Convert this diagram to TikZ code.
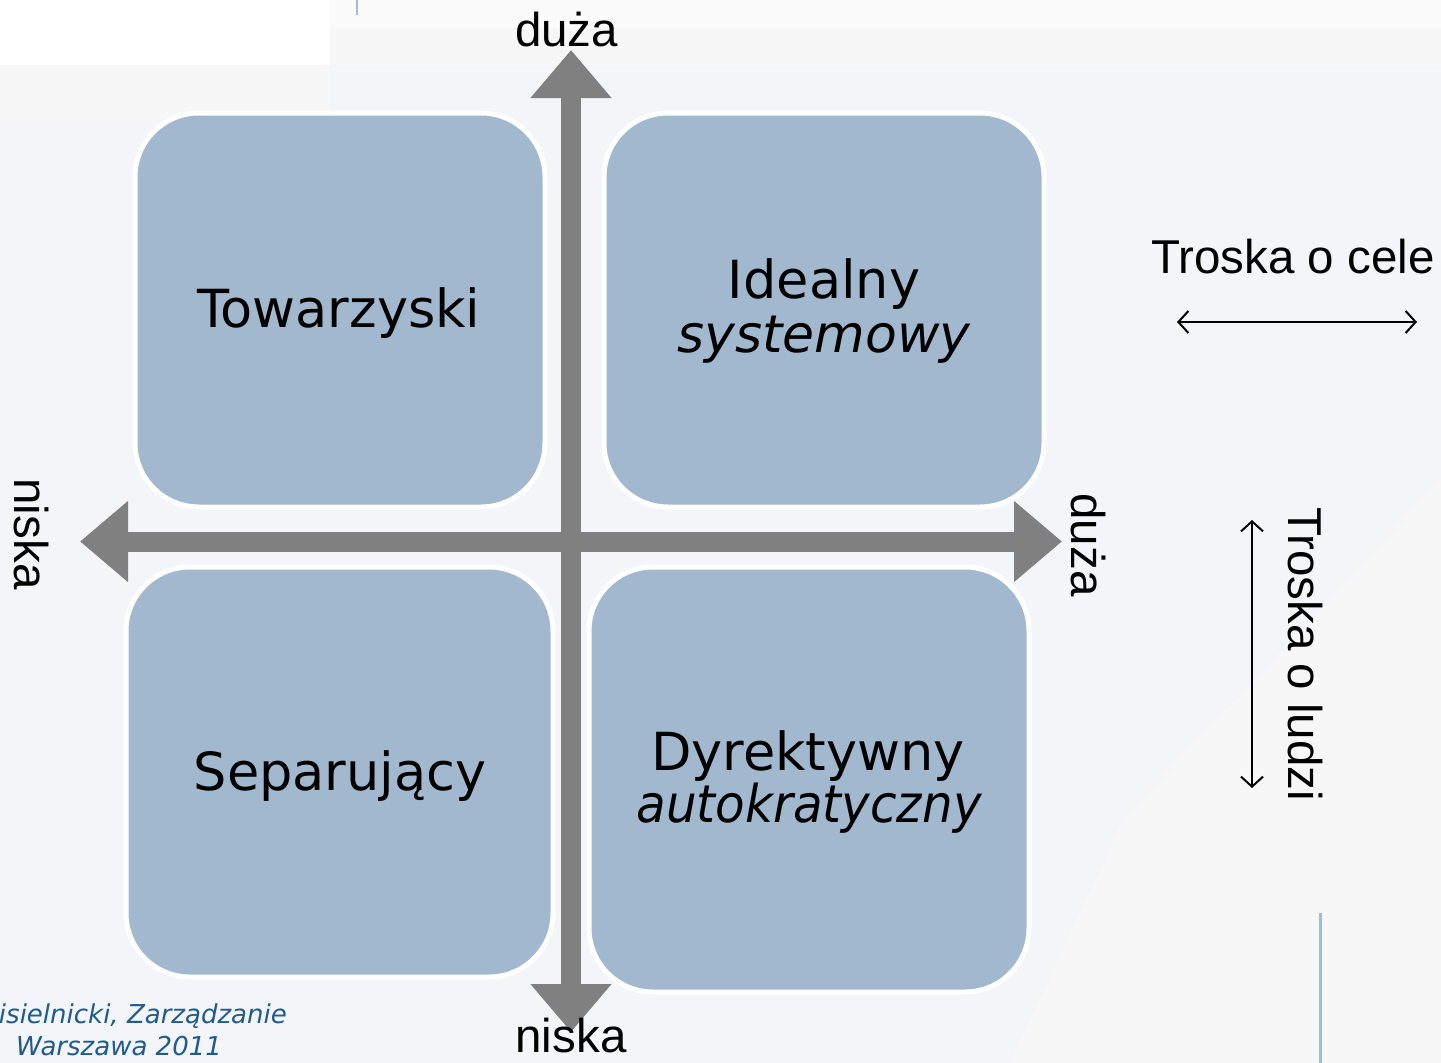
\documentclass[tikz,border=0pt]{standalone}
\usepackage{fontspec}
\usetikzlibrary{arrows.meta}
\newfontfamily\arialf{Liberation Sans}
\newfontfamily\verdf{DejaVu Sans}
\definecolor{boxblue}{RGB}{161,184,206}
\definecolor{axisgray}{RGB}{128,128,128}
\definecolor{bgcol}{RGB}{243,245,248}
\definecolor{greytint}{RGB}{247,247,248}
\definecolor{footblue}{RGB}{31,91,142}
\definecolor{decoblue}{RGB}{157,189,221}
\begin{document}
\begin{tikzpicture}[x=1pt,y=-1pt,
  quad/.style={draw=white, line width=5pt, fill=boxblue, rounded corners=64pt, inner sep=0pt},
  qlabel/.style={font=\verdf\fontsize{52.5}{60}\selectfont, anchor=base, inner sep=0pt},
  qlabelit/.style={font=\verdf\itshape\fontsize{52}{60}\selectfont, anchor=base, inner sep=0pt},
  axlabel/.style={font=\arialf\fontsize{47.5}{56}\selectfont, inner sep=0pt},
  foot/.style={font=\verdf\itshape\fontsize{26}{30}\selectfont, text=footblue, inner sep=0pt},
  axisarrow/.style={draw=axisgray, line width=20pt, {Triangle[length=48pt,width=78pt]}-{Triangle[length=48pt,width=78pt]}},
  legendarrow/.style={draw=black, line width=2pt, {Straight Barb[length=10pt,width=22pt]}-{Straight Barb[length=10pt,width=22pt]}},
]
\useasboundingbox (0,0) rectangle (1441,1063);
% background
\fill[bgcol] (0,0) rectangle (1441,1063);
\fill[greytint] (1123,820) -- (1441,480) -- (1441,1063) -- (1010,1063) -- cycle;
\fill[greytint] (330,28) rectangle (1441,65);
\fill[greytint] (0,65) rectangle (330,120);
\fill[white] (0,0) rectangle (330,65);
\fill[white!50!greytint] (330,0) rectangle (1441,28);
\draw[decoblue, line width=2.5pt] (357,0) -- (357,15);
\draw[decoblue, line width=3pt] (1320,913) -- (1320,1063);

% quadrant boxes
\node[quad, minimum width=410pt, minimum height=394pt] (tl) at (340,310) {};
\node[quad, minimum width=440pt, minimum height=394pt] (tr) at (824,310) {};
\node[quad, minimum width=427pt, minimum height=410pt] (bl) at (339.5,772) {};
\node[quad, minimum width=440pt, minimum height=425pt] (br) at (809,779.5) {};

\node[qlabel] (tlt) at (339,327) {Towarzyski};
\node[qlabel] (trt1) at (824,298) {Idealny};
\node[qlabelit] (trt2) at (824,352) {systemowy};
\node[qlabel] (blt) at (340,790) {Separujący};
\node[qlabel] (brt1) at (808,770) {Dyrektywny};
\node[qlabelit, xscale=0.93] (brt2) at (809,822) {autokratyczny};

% axes
\coordinate (vtop) at (571,50);
\coordinate (vbot) at (571,1032);
\coordinate (hl) at (80,541.5);
\coordinate (hr) at (1062,541.5);
\draw[axisarrow] (hl) -- (hr);
\draw[axisarrow] (vbot) -- (vtop);

% axis labels
\node[axlabel, anchor=base] (ytop) at (566.5,46) {duża};
\node[axlabel, anchor=base] (ybot) at (571,1052) {niska};
\node[axlabel, rotate=-90] (xleft) at (31,534) {niska};
\node[axlabel, rotate=-90] (xright) at (1088,545) {duża};

% legend
\node[axlabel, anchor=base west] (lgh) at (1151,273) {Troska o cele};
\coordinate (lh1) at (1177,322);
\coordinate (lh2) at (1417,322);
\draw[legendarrow] (lh1) -- (lh2);
\node[axlabel, rotate=-90] (lgv) at (1305,654) {Troska o ludzi};
\coordinate (lv1) at (1252,520);
\coordinate (lv2) at (1252,788);
\draw[legendarrow] (lv1) -- (lv2);

% footer
\node[foot, anchor=base east] (f1) at (287,1023) {isielnicki, Zarządzanie};
\node[foot, anchor=base west] (f2) at (16,1055) {Warszawa 2011};
\end{tikzpicture}
\end{document}
